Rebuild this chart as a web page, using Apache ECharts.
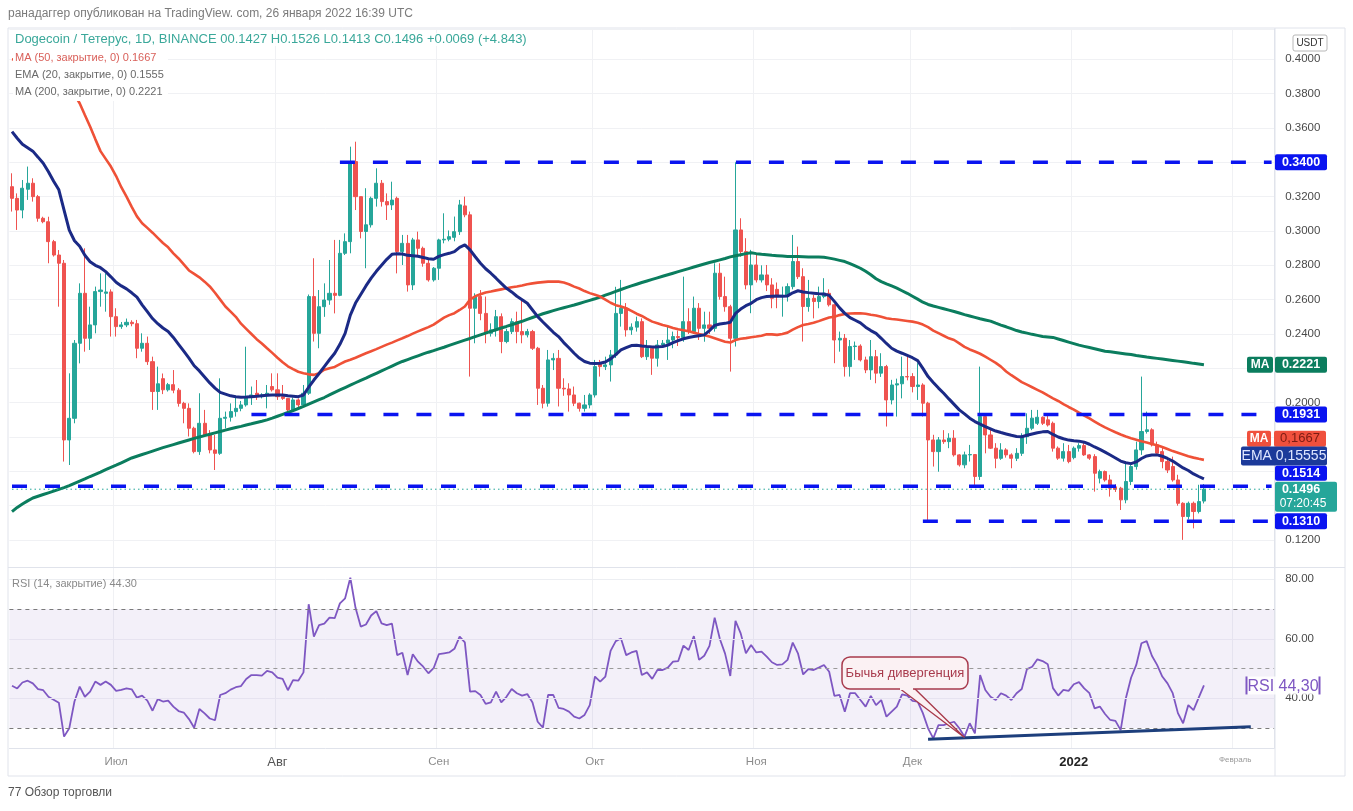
<!DOCTYPE html>
<html>
<head>
<meta charset="utf-8">
<script src="https://cdn.jsdelivr.net/npm/echarts@6/dist/echarts.min.js"></script>
<style>
html,body{margin:0;padding:0;background:#fff;}
#chart{width:1353px;height:811px;}
</style>
</head>
<body>
<div id="chart"></div>
<script>
// ---------- DATA ----------
const startDate = [2021, 5, 11];   // 11 June 2021, first daily candle
const totalSlots = 243;            // 230 candles + empty space on the right

const opens = [
.3258,.3190,.3122,.3243,.3278,.3200,.3074,.3054,.2938,.2860,
.2812,.1783,.1909,.2346,.2637,.2375,.2453,.2647,.2637,.2645,
.2501,.2443,.2453,.2468,.2460,.2317,.2346,.2239,.2065,.2140,
.2075,.2105,.2073,.1996,.1967,.1851,.1715,.1880,.1812,.1725,
.1705,.1909,.1915,.1948,.1967,.1987,.2035,.2055,.2035,.2040,
.2094,.2075,.2035,.2025,.1958,.2016,.1987,.2055,.2618,.2404,
.2559,.2598,.2637,.2625,.2870,.2938,.3404,.3200,.2997,.3036,
.3190,.3278,.3171,.3152,.3190,.2880,.2928,.2686,.2948,.2899,
.2812,.2715,.2783,.2948,.2952,.2963,.2996,.3146,.3094,.2550,
.2618,.2520,.2404,.2424,.2501,.2356,.2414,.2472,.2414,.2395,
.2414,.2317,.2084,.1997,.2249,.2258,.2084,.2080,.2045,.1997,
.1967,.1987,.2045,.2230,.2210,.2220,.2278,.2520,.2550,.2424,
.2440,.2472,.2268,.2317,.2259,.2336,.2346,.2365,.2385,.2380,
.2472,.2414,.2550,.2433,.2453,.2433,.2754,.2618,.2559,.2375,
.3006,.2880,.2686,.2802,.2715,.2744,.2686,.2660,.2618,.2625,
.2676,.2822,.2734,.2560,.2608,.2589,.2618,.2637,.2570,.2365,
.2375,.2210,.2327,.2330,.2249,.2191,.2268,.2172,.2210,.2016,
.2103,.2110,.2152,.2152,.2094,.2103,.1997,.1783,.1715,.1783,
.1773,.1793,.1696,.1638,.1696,.1698,.1570,.1919,.1812,.1735,
.1676,.1725,.1696,.1676,.1705,.1802,.1851,.1880,.1915,.1900,
.1880,.1735,.1677,.1715,.1680,.1735,.1750,.1696,.1686,.1560,
.1599,.1550,.1510,.1502,.1434,.1541,.1628,.1725,.1832,.1842,
.1754,.1715,.1657,.1628,.1550,.1414,.1337,.1414,.1366,.1427];

const closes = [
.3190,.3122,.3249,.3278,.3200,.3074,.3054,.2938,.2860,.2812,
.1783,.1909,.2346,.2637,.2375,.2453,.2647,.2656,.2645,.2501,
.2443,.2453,.2468,.2460,.2317,.2346,.2239,.2065,.2110,.2075,
.2105,.2073,.1996,.1967,.1851,.1715,.1880,.1812,.1725,.1705,
.1909,.1915,.1948,.1967,.1987,.2035,.2045,.2035,.2045,.2055,
.2075,.2035,.2025,.1958,.2016,.1987,.2055,.2618,.2404,.2559,
.2598,.2637,.2625,.2870,.2938,.3404,.3200,.2997,.3036,.3190,
.3278,.3171,.3152,.3180,.2880,.2928,.2686,.2948,.2899,.2812,
.2715,.2783,.2948,.2952,.2967,.2996,.3152,.3094,.2550,.2618,
.2520,.2404,.2424,.2501,.2356,.2414,.2472,.2414,.2395,.2414,
.2317,.2084,.1997,.2249,.2258,.2084,.2080,.2045,.1997,.1967,
.1987,.2045,.2210,.2210,.2220,.2278,.2520,.2550,.2424,.2440,
.2472,.2268,.2317,.2259,.2336,.2346,.2365,.2385,.2380,.2472,
.2414,.2550,.2433,.2453,.2433,.2754,.2618,.2559,.2375,.3006,
.2880,.2686,.2802,.2715,.2744,.2686,.2608,.2618,.2625,.2676,
.2822,.2734,.2560,.2608,.2589,.2618,.2637,.2570,.2365,.2375,
.2210,.2327,.2330,.2249,.2191,.2268,.2172,.2210,.2016,.2103,
.2110,.2152,.2150,.2094,.2103,.1997,.1783,.1715,.1783,.1773,
.1793,.1696,.1638,.1696,.1698,.1570,.1919,.1812,.1735,.1676,
.1725,.1696,.1676,.1705,.1802,.1851,.1910,.1915,.1880,.1870,
.1735,.1677,.1715,.1657,.1735,.1750,.1696,.1677,.1589,.1599,
.1550,.1502,.1495,.1434,.1541,.1628,.1725,.1832,.1842,.1754,
.1706,.1657,.1608,.1550,.1414,.1337,.1414,.1366,.1424,.1496];

const lows = [
.3113,.3006,.3074,.3181,.3171,.3054,.3045,.2812,.2851,.2559,
.1657,.1637,.1880,.2229,.2297,.2307,.2404,.2559,.2530,.2385,
.2385,.2430,.2440,.2445,.2259,.2297,.2220,.1958,.1958,.2050,
.2065,.2055,.1977,.1880,.1803,.1705,.1696,.1800,.1705,.1608,
.1696,.1850,.1890,.1919,.1950,.1977,.1987,.2016,.2025,.1967,
.2065,.2016,.2016,.1938,.1950,.1958,.1977,.2045,.2356,.2317,
.2500,.2570,.2520,.2620,.2860,.2870,.3122,.2957,.2783,.3020,
.3142,.3142,.3064,.3122,.2753,.2802,.2647,.2656,.2850,.2792,
.2705,.2705,.2715,.2928,.2940,.2940,.2977,.3080,.2152,.2346,
.2480,.2346,.2385,.2385,.2288,.2346,.2400,.2346,.2346,.2380,
.2307,.1987,.1967,.1977,.2190,.1978,.2040,.1948,.1980,.1948,
.1948,.1967,.2030,.2152,.2190,.2123,.2260,.2443,.2385,.2395,
.2414,.2260,.2249,.2162,.2210,.2320,.2249,.2317,.2330,.2355,
.2400,.2400,.2365,.2355,.2400,.2414,.2600,.2530,.2181,.2327,
.2850,.2660,.2521,.2700,.2700,.2650,.2550,.2550,.2501,.2589,
.2660,.2720,.2356,.2530,.2491,.2550,.2608,.2560,.2230,.2297,
.2152,.2152,.2249,.2240,.2172,.2133,.2113,.2150,.1861,.1990,
.1919,.2025,.2130,.2060,.2016,.1919,.1317,.1628,.1598,.1760,
.1735,.1686,.1628,.1618,.1657,.1521,.1550,.1705,.1730,.1618,
.1667,.1680,.1618,.1660,.1690,.1760,.1840,.1870,.1870,.1861,
.1715,.1667,.1657,.1647,.1670,.1715,.1690,.1667,.1482,.1530,
.1540,.1453,.1480,.1375,.1414,.1520,.1610,.1696,.1820,.1745,
.1690,.1618,.1590,.1540,.1400,.1201,.1320,.1268,.1355,.1413];

const highs = [
.3336,.3219,.3297,.3375,.3307,.3210,.3083,.3083,.2948,.2889,
.2831,.2171,.2365,.2695,.2899,.2559,.2676,.2753,.2753,.2660,
.2550,.2470,.2490,.2480,.2482,.2404,.2385,.2268,.2210,.2170,
.2115,.2190,.2085,.2005,.1996,.1860,.2055,.1958,.1840,.1812,
.2142,.1948,.1996,.2035,.2010,.2326,.2094,.2132,.2055,.2103,
.2171,.2171,.2103,.2025,.2030,.2025,.2103,.2630,.2841,.2656,
.2695,.2831,.2948,.2948,.2986,.3491,.3520,.3200,.3249,.3200,
.3365,.3297,.3219,.3287,.3200,.2977,.2977,.2960,.2996,.2909,
.2841,.2790,.2955,.3103,.3003,.3084,.3181,.3200,.3113,.2637,
.2656,.2618,.2462,.2540,.2520,.2430,.2491,.2530,.2598,.2430,
.2424,.2325,.2103,.2307,.2288,.2307,.2142,.2113,.2094,.2000,
.2045,.2055,.2249,.2249,.2268,.2307,.2675,.2715,.2580,.2462,
.2501,.2491,.2365,.2327,.2365,.2365,.2443,.2414,.2420,.2734,
.2550,.2618,.2580,.2530,.2530,.2812,.2812,.2734,.2570,.3400,
.3074,.2958,.2890,.2870,.2800,.2802,.2725,.2700,.2676,.2695,
.2977,.2909,.2783,.2715,.2627,.2676,.2725,.2660,.2575,.2414,
.2400,.2365,.2356,.2340,.2268,.2365,.2307,.2288,.2220,.2133,
.2140,.2268,.2278,.2172,.2230,.2113,.2005,.1813,.1800,.1840,
.1822,.1840,.1700,.1715,.1754,.1700,.2210,.1938,.1850,.1764,
.1764,.1735,.1705,.1735,.1822,.1938,.1958,.1958,.1920,.1930,
.1890,.1745,.1764,.1754,.1745,.1764,.1764,.1700,.1700,.1610,
.1605,.1580,.1525,.1510,.1647,.1638,.1773,.2152,.1948,.1851,
.1773,.1740,.1680,.1686,.1580,.1420,.1424,.1424,.1522,.1526];

const ema20 = [
.3579,.3540,.3505,.3485,.3465,.3430,.3394,.3345,.3290,.3240,
.3122,.3005,.2943,.2911,.2859,.2821,.2800,.2786,.2763,.2733,
.2701,.2680,.2663,.2640,.2615,.2570,.2530,.2490,.2460,.2435,
.2415,.2380,.2340,.2300,.2260,.2215,.2185,.2150,.2115,.2085,
.2060,.2050,.2040,.2035,.2032,.2033,.2035,.2037,.2040,.2043,
.2045,.2045,.2045,.2040,.2038,.2035,.2045,.2090,.2132,.2170,
.2210,.2250,.2288,.2340,.2404,.2510,.2580,.2630,.2680,.2725,
.2765,.2800,.2835,.2864,.2868,.2866,.2858,.2856,.2853,.2846,
.2838,.2835,.2852,.2862,.2870,.2880,.2905,.2919,.2890,.2850,
.2812,.2780,.2754,.2725,.2695,.2666,.2645,.2620,.2600,.2579,
.2540,.2501,.2470,.2440,.2410,.2385,.2350,.2320,.2288,.2260,
.2240,.2230,.2228,.2230,.2237,.2255,.2280,.2307,.2320,.2333,
.2335,.2330,.2327,.2325,.2325,.2327,.2335,.2350,.2362,.2372,
.2380,.2385,.2390,.2395,.2420,.2450,.2458,.2462,.2468,.2520,
.2545,.2565,.2579,.2600,.2612,.2618,.2620,.2622,.2620,.2622,
.2640,.2652,.2645,.2641,.2638,.2635,.2633,.2625,.2590,.2552,
.2520,.2495,.2480,.2465,.2440,.2420,.2404,.2375,.2345,.2317,
.2300,.2288,.2275,.2262,.2245,.2200,.2152,.2118,.2085,.2055,
.2022,.1990,.1958,.1935,.1910,.1890,.1875,.1861,.1848,.1835,
.1826,.1818,.1810,.1803,.1802,.1810,.1818,.1825,.1830,.1832,
.1815,.1800,.1790,.1782,.1778,.1776,.1770,.1758,.1742,.1728,
.1712,.1695,.1678,.1660,.1650,.1645,.1655,.1675,.1690,.1695,
.1696,.1688,.1675,.1660,.1640,.1620,.1605,.1585,.1570,.1556];

const ma50 = [
.4000,.3995,.3990,.3982,.3972,.3960,.3945,.3928,.3908,.3885,
.3860,.3830,.3795,.3744,.3675,.3608,.3535,.3465,.3420,.3375,
.3320,.3255,.3200,.3140,.3085,.3045,.3018,.2990,.2960,.2930,
.2905,.2870,.2840,.2805,.2770,.2750,.2730,.2705,.2677,.2640,
.2600,.2560,.2530,.2500,.2460,.2430,.2400,.2370,.2345,.2317,
.2290,.2262,.2235,.2212,.2195,.2180,.2172,.2165,.2162,.2172,
.2192,.2200,.2208,.2225,.2240,.2250,.2262,.2275,.2288,.2300,
.2312,.2325,.2338,.2350,.2363,.2375,.2388,.2402,.2415,.2428,
.2440,.2455,.2475,.2495,.2510,.2521,.2540,.2560,.2600,.2620,
.2632,.2642,.2647,.2654,.2660,.2666,.2672,.2677,.2683,.2690,
.2695,.2699,.2702,.2705,.2706,.2705,.2700,.2690,.2676,.2665,
.2650,.2638,.2628,.2618,.2600,.2582,.2568,.2560,.2550,.2535,
.2518,.2505,.2488,.2472,.2462,.2452,.2445,.2435,.2428,.2422,
.2416,.2408,.2400,.2393,.2385,.2375,.2365,.2355,.2350,.2365,
.2372,.2376,.2381,.2385,.2390,.2398,.2398,.2395,.2400,.2408,
.2425,.2440,.2452,.2458,.2465,.2475,.2486,.2496,.2501,.2510,
.2517,.2519,.2520,.2521,.2518,.2512,.2508,.2500,.2492,.2487,
.2484,.2480,.2476,.2472,.2465,.2455,.2440,.2420,.2405,.2390,
.2375,.2365,.2345,.2325,.2310,.2298,.2285,.2268,.2250,.2232,
.2210,.2182,.2160,.2140,.2120,.2105,.2090,.2075,.2060,.2042,
.2025,.2010,.1992,.1975,.1960,.1942,.1925,.1908,.1890,.1872,
.1856,.1842,.1828,.1815,.1803,.1793,.1784,.1775,.1768,.1760,
.1752,.1742,.1730,.1718,.1708,.1698,.1688,.1680,.1673,.1667];

const ma200 = [
.1365,.1390,.1410,.1428,.1445,.1455,.1465,.1475,.1485,.1495,
.1505,.1517,.1530,.1543,.1556,.1570,.1583,.1596,.1610,.1623,
.1636,.1650,.1664,.1678,.1688,.1698,.1708,.1718,.1728,.1738,
.1747,.1756,.1765,.1774,.1783,.1792,.1800,.1808,.1816,.1824,
.1832,.1840,.1848,.1855,.1862,.1870,.1877,.1885,.1892,.1900,
.1910,.1921,.1932,.1943,.1954,.1966,.1978,.1992,.2005,.2018,
.2030,.2045,.2060,.2074,.2088,.2102,.2116,.2130,.2143,.2157,
.2171,.2185,.2199,.2213,.2227,.2240,.2251,.2262,.2273,.2284,
.2294,.2303,.2313,.2323,.2334,.2344,.2354,.2364,.2374,.2385,
.2395,.2405,.2415,.2425,.2435,.2444,.2454,.2464,.2474,.2485,
.2496,.2507,.2518,.2527,.2536,.2545,.2553,.2561,.2569,.2578,
.2587,.2596,.2605,.2615,.2626,.2637,.2648,.2659,.2670,.2680,
.2690,.2700,.2709,.2718,.2727,.2736,.2745,.2754,.2763,.2772,
.2781,.2790,.2799,.2808,.2816,.2824,.2832,.2840,.2849,.2856,
.2862,.2868,.2873,.2868,.2864,.2861,.2858,.2856,.2854,.2852,
.2851,.2851,.2850,.2849,.2848,.2848,.2847,.2842,.2836,.2829,
.2822,.2810,.2797,.2783,.2765,.2745,.2722,.2705,.2692,.2680,
.2667,.2652,.2637,.2620,.2603,.2585,.2572,.2563,.2555,.2547,
.2539,.2531,.2522,.2513,.2505,.2497,.2489,.2482,.2475,.2463,
.2452,.2442,.2431,.2420,.2412,.2405,.2398,.2392,.2386,.2383,
.2380,.2371,.2362,.2353,.2344,.2335,.2328,.2321,.2314,.2307,
.2300,.2296,.2292,.2288,.2284,.2280,.2275,.2271,.2266,.2262,
.2258,.2254,.2250,.2246,.2242,.2238,.2234,.2229,.2225,.2221];

const rsi = [
44.2,43.3,45.3,45.9,45.0,43.1,42.7,40.5,39.5,38.5,
27.1,29.9,38.9,43.9,40.5,42.2,45.6,44.5,45.6,44.5,
42.5,42.8,43.3,43.0,40.2,40.9,39.2,35.8,39.7,38.9,
39.2,37.2,35.7,35.2,33.0,30.1,36.4,34.9,33.2,32.6,
41.1,41.7,42.9,43.7,44.1,46.5,47.8,47.8,47.6,49.2,
48.7,46.9,46.5,42.7,46.1,45.9,48.7,71.6,60.7,64.6,
65.1,67.1,66.9,71.9,73.6,80.5,70.4,64.1,64.8,67.8,
69.3,65.2,64.6,65.1,54.5,55.3,47.8,54.8,52.3,50.6,
48.4,50.1,54.8,55.1,55.4,56.6,60.7,58.8,42.2,42.4,
41.1,38.1,38.6,42.2,38.6,40.5,43.1,41.7,40.9,41.4,
38.6,32.1,30.1,41.1,41.1,36.8,36.4,35.5,33.8,33.2,
34.4,37.7,47.3,45.6,47.3,55.9,59.2,60.1,54.5,55.4,
55.9,47.8,48.7,46.5,49.5,49.5,50.3,52.3,52.5,57.7,
56.2,60.9,52.9,54.3,57.6,67.1,59.9,55.0,47.5,66.0,
61.8,55.1,57.9,55.4,55.7,54.0,52.1,51.2,51.4,52.9,
58.7,55.1,48.0,49.8,49.5,50.3,51.2,48.9,40.8,41.1,
35.5,41.7,41.7,39.4,37.2,40.8,37.7,39.4,33.8,35.5,
37.2,41.3,40.9,39.1,38.9,35.0,29.9,26.5,31.0,31.0,
31.6,32.1,29.9,27.1,31.6,28.2,47.8,42.8,40.5,39.4,
41.7,40.9,39.4,41.7,43.1,49.8,50.6,53.1,52.5,51.4,
43.4,40.9,42.8,42.5,44.7,45.4,43.3,41.7,36.6,37.2,
34.7,32.7,32.4,29.3,40.0,46.9,51.2,58.5,59.2,54.3,
51.2,47.3,45.0,41.7,35.0,31.6,37.7,36.0,40.2,44.3];

// horizontal support / resistance levels: [value, first candle index]
const levels = [[0.3400, 63], [0.1931, 46], [0.1514, 0], [0.1310, 175]];
const lastPrice = 0.1496;
// RSI bullish-divergence trend line: [candle index, rsi]
const rsiTrend = [[176, 26.2], [238, 30.4]];
const priceTicks = [0.12,0.14,0.16,0.18,0.20,0.22,0.24,0.26,0.28,0.30,0.32,0.34,0.36,0.38,0.40];
const rsiTicks = [40, 60, 80];
const monthNames = {'07':'Июл','08':'Авг','09':'Сен','10':'Окт','11':'Ноя','12':'Дек','01':'2022','02':'Февраль'};

// ---------- BUILD ----------
const dates = [];
for (let k = 0; k < totalSlots; k++) {
  const d = new Date(Date.UTC(startDate[0], startDate[1], startDate[2] + k));
  dates.push(d.toISOString().slice(0, 10));
}
const isMonthStart = (idx) => dates[idx] && dates[idx].slice(8) === '01';
const candles = opens.map((o, k) => [o, closes[k], lows[k], highs[k]]);
const lastSlot = totalSlots - 1;

const FONT = 'Liberation Sans, Arial, sans-serif';
const BLUE = '#0a14f0';
const UP = '#26a69a', DOWN = '#ef5350';

const chart = echarts.init(document.getElementById('chart'), null, {renderer: 'canvas'});

const gridLeft = 9.4, gridWidth = 1264.8;
const mainTop = 29, mainBottom = 567, rsiTop = 568, rsiBottom = 748;
const pMax = 0.34 + (162.3 - mainTop) / 1717;
const pMin = 0.34 - (mainBottom - 162.3) / 1717;

const levelSeries = levels.map(([v, s]) => ({
  type: 'line', xAxisIndex: 0, yAxisIndex: 0, symbol: 'none', silent: true, z: 6,
  data: [[s, v], [lastSlot, v]],
  lineStyle: {color: BLUE, width: 3.5, type: [15, 18]}
}));

const option = {
  animation: false,
  backgroundColor: '#ffffff',
  textStyle: {fontFamily: FONT},
  grid: [
    {left: gridLeft, width: gridWidth, top: mainTop, height: mainBottom - mainTop},
    {left: gridLeft, width: gridWidth, top: rsiTop, height: rsiBottom - rsiTop}
  ],
  xAxis: [
    {type: 'category', gridIndex: 0, data: dates, boundaryGap: true,
     axisLine: {show: false}, axisTick: {show: false}, axisLabel: {show: false},
     splitLine: {show: true, interval: (i) => isMonthStart(i), lineStyle: {color: '#f0f1f4', width: 1}}},
    {type: 'category', gridIndex: 1, data: dates, boundaryGap: true,
     axisLine: {show: true, lineStyle: {color: '#e0e3eb'}}, axisTick: {show: false},
     splitLine: {show: true, interval: (i) => isMonthStart(i), lineStyle: {color: '#f0f1f4', width: 1}},
     axisLabel: {
       interval: (i) => isMonthStart(i), margin: 8, color: '#8c8c8c', fontSize: 11.5, fontFamily: FONT,
       formatter: (v) => {
         const m = v.slice(5, 7); const n = monthNames[m] || '';
         if (m === '01') return '{y|' + n + '}';
         if (m === '08') return '{a|' + n + '}';
         if (m === '02') return '{f|' + n + '}';
         return n;
       },
       rich: {
         y: {fontSize: 13, fontWeight: 'bold', color: '#222', fontFamily: FONT},
         a: {fontSize: 13, color: '#555', fontFamily: FONT},
         f: {fontSize: 8, color: '#999', fontFamily: FONT}
       }
     }}
  ],
  yAxis: [
    {type: 'value', gridIndex: 0, position: 'right', min: pMin, max: pMax, splitNumber: 16, scale: true,
     axisLine: {show: true, lineStyle: {color: '#e0e3eb'}}, axisTick: {show: false},
     axisLabel: {margin: 11, color: '#4a4a4a', fontSize: 11.5, fontFamily: FONT, showMinLabel: false, showMaxLabel: false,
       formatter: (v) => priceTicks.some(t => Math.abs(t - v) < 1e-6) ? v.toFixed(4) : ''},
     splitLine: {show: true, lineStyle: {color: '#f0f1f4'}}},
    {type: 'value', gridIndex: 1, position: 'right', min: 23.28, max: 83.78, splitNumber: 6,
     axisLine: {show: true, lineStyle: {color: '#e0e3eb'}}, axisTick: {show: false},
     axisLabel: {margin: 11, color: '#4a4a4a', fontSize: 11.5, fontFamily: FONT, showMinLabel: false, showMaxLabel: false,
       formatter: (v) => rsiTicks.some(t => Math.abs(t - v) < 1e-6) ? v.toFixed(2) : ''},
     splitLine: {show: false}}
  ],
  series: [
    {type: 'candlestick', xAxisIndex: 0, yAxisIndex: 0, data: candles, barWidth: 3.6, z: 2,
     itemStyle: {color: UP, color0: DOWN, borderColor: UP, borderColor0: DOWN, borderWidth: 1}},
    {type: 'line', name: 'MA200', xAxisIndex: 0, yAxisIndex: 0, data: ma200, symbol: 'none', z: 3, silent: true,
     lineStyle: {color: '#0b7d5e', width: 3}},
    {type: 'line', name: 'MA50', xAxisIndex: 0, yAxisIndex: 0, data: ma50, symbol: 'none', z: 3, silent: true,
     lineStyle: {color: '#ef5137', width: 2.6}},
    {type: 'line', name: 'EMA20', xAxisIndex: 0, yAxisIndex: 0, data: ema20, symbol: 'none', z: 4, silent: true,
     lineStyle: {color: '#1b2a86', width: 3}},
    ...levelSeries,
    {type: 'line', xAxisIndex: 0, yAxisIndex: 0, symbol: 'none', silent: true, z: 5,
     data: [[0, lastPrice], [lastSlot, lastPrice]], lineStyle: {color: UP, width: 1, type: [1.5, 3]}},
    {type: 'line', name: 'RSI', xAxisIndex: 1, yAxisIndex: 1, data: rsi, symbol: 'none', z: 4, silent: true,
     lineStyle: {color: '#7e57c2', width: 1.8},
     markArea: {silent: true, itemStyle: {color: 'rgba(126,87,194,0.09)'},
       data: [[{yAxis: 30, x: gridLeft}, {yAxis: 70, x: gridLeft + gridWidth}]]},
     markLine: {silent: true, symbol: 'none', label: {show: false},
       data: [
         {yAxis: 70, lineStyle: {color: '#7a7a7a', type: [4, 4], width: 1}},
         {yAxis: 50, lineStyle: {color: '#9a9a9a', type: [4, 4], width: 1}},
         {yAxis: 30, lineStyle: {color: '#7a7a7a', type: [4, 4], width: 1}},
         {yAxis: 80, lineStyle: {color: '#eceef2', type: 'solid', width: 1}},
         {yAxis: 60, lineStyle: {color: '#e6e3f0', type: 'solid', width: 1}},
         {yAxis: 40, lineStyle: {color: '#e6e3f0', type: 'solid', width: 1}}
       ]}},
    {type: 'line', xAxisIndex: 1, yAxisIndex: 1, data: rsiTrend, symbol: 'none', z: 6, silent: true,
     lineStyle: {color: '#1d3f7c', width: 3}}
  ]
};
chart.setOption(option);

// ---------- ANNOTATIONS / LABELS ----------
const py = (v) => chart.convertToPixel({yAxisIndex: 0}, v);
function tag(x1, x2, yc, h, bg, text, color, bold, size) {
  return {type: 'group', z: 100, children: [
    {type: 'rect', shape: {x: x1, y: yc - h / 2, width: x2 - x1, height: h, r: 2}, style: {fill: bg}, z: 100},
    {type: 'text', x: (x1 + x2) / 2, y: yc, z: 101,
     style: {text: text, fill: color, font: (bold ? 'bold ' : '') + size + 'px ' + FONT, textAlign: 'center', textVerticalAlign: 'middle'}}
  ]};
}
const g = [];
// frame
g.push({type: 'rect', z: 90, shape: {x: 8, y: 28, width: 1337, height: 748}, style: {fill: 'none', stroke: '#e0e3eb', lineWidth: 1}});
g.push({type: 'line', z: 90, shape: {x1: 8, y1: 567.5, x2: 1345, y2: 567.5}, style: {stroke: '#e0e3eb', lineWidth: 1}});
g.push({type: 'line', z: 90, shape: {x1: 1275, y1: 28, x2: 1275, y2: 776}, style: {stroke: '#e0e3eb', lineWidth: 1}});
// legend backdrop (hides the indicator lines behind the legend block, as in the reference)
g.push({type: 'rect', z: 95, shape: {x: 13, y: 50, width: 155, height: 51}, style: {fill: '#ffffff'}});
// header & legend
g.push({type: 'text', z: 100, left: 8, top: 8, style: {text: 'ранадаггер опубликован на TradingView. com, 26 января 2022 16:39 UTC', fill: '#7b7b7b', font: '12px ' + FONT}});
g.push({type: 'text', z: 100, left: 15, top: 33, style: {text: 'Dogecoin / Тетерус, 1D, BINANCE 00.1427 H0.1526 L0.1413 C0.1496 +0.0069 (+4.843)', fill: '#3aa89a', font: '13px ' + FONT, backgroundColor: 'rgba(255,255,255,0.85)'}});
g.push({type: 'text', z: 100, left: 15, top: 52, style: {text: 'MA (50, закрытие, 0) 0.1667', fill: '#d9605a', font: '11px ' + FONT}});
g.push({type: 'text', z: 100, left: 15, top: 69, style: {text: 'EMA (20, закрытие, 0) 0.1555', fill: '#6a6a6a', font: '11px ' + FONT}});
g.push({type: 'text', z: 100, left: 15, top: 86, style: {text: 'MA (200, закрытие, 0) 0.2221', fill: '#6a6a6a', font: '11px ' + FONT}});
g.push({type: 'text', z: 100, left: 12, top: 578, style: {text: 'RSI (14, закрытие) 44.30', fill: '#8a8a8a', font: '11px ' + FONT}});
g.push({type: 'text', z: 100, left: 8, top: 787, style: {text: '77 Обзор торговли', fill: '#555', font: '12px ' + FONT}});
// USDT box
g.push({type: 'rect', z: 100, shape: {x: 1293, y: 35, width: 34, height: 16, r: 2}, style: {fill: '#fff', stroke: '#b8b8b8', lineWidth: 1}});
g.push({type: 'text', z: 101, x: 1310, y: 43, style: {text: 'USDT', fill: '#333', font: '10px ' + FONT, textAlign: 'center', textVerticalAlign: 'middle'}});
// right price tags
g.push(tag(1275, 1327, py(0.34), 16, BLUE, '0.3400', '#fff', true, 12.5));
g.push(tag(1247, 1273, py(0.2221), 16, '#0b7d5e', 'MA', '#fff', true, 12));
g.push(tag(1275, 1327, py(0.2221), 16, '#0b7d5e', '0.2221', '#fff', true, 12.5));
g.push(tag(1275, 1327, py(0.1931), 16, BLUE, '0.1931', '#fff', true, 12.5));
g.push(tag(1247, 1271, py(0.1667) - 21, 16, '#f0503d', 'MA', '#fff', true, 12));
g.push(tag(1274, 1326, py(0.1667) - 21, 16, '#f0503d', '0,1667', '#7c1c12', false, 13));
g.push(tag(1241, 1327, py(0.15555) - 23, 19, '#1c3a9a', 'EMA 0,15555', '#dfe6ff', false, 14));
g.push(tag(1275, 1327, py(0.1514) - 13, 15, BLUE, '0.1514', '#fff', true, 12.5));
g.push({type: 'group', z: 100, children: [
  {type: 'rect', z: 100, shape: {x: 1275, y: py(lastPrice) - 7.5, width: 62, height: 30, r: 2}, style: {fill: '#26a69a'}},
  {type: 'text', z: 101, x: 1301, y: py(lastPrice) + 0.5, style: {text: '0.1496', fill: '#fff', font: 'bold 12.5px ' + FONT, textAlign: 'center', textVerticalAlign: 'middle'}},
  {type: 'text', z: 101, x: 1303, y: py(lastPrice) + 14.5, style: {text: '07:20:45', fill: '#fff', font: '12px ' + FONT, textAlign: 'center', textVerticalAlign: 'middle'}}
]});
g.push(tag(1275, 1327, py(0.131), 16, BLUE, '0.1310', '#fff', true, 12.5));
// RSI value tag
const ry = chart.convertToPixel({yAxisIndex: 1}, 44.3);
g.push({type: 'rect', z: 100, shape: {x: 1246, y: ry - 9, width: 74, height: 18}, style: {fill: 'rgba(255,255,255,0.85)'}});
g.push({type: 'line', z: 101, shape: {x1: 1246.5, y1: ry - 9, x2: 1246.5, y2: ry + 9}, style: {stroke: '#7e57c2', lineWidth: 2}});
g.push({type: 'line', z: 101, shape: {x1: 1319.5, y1: ry - 9, x2: 1319.5, y2: ry + 9}, style: {stroke: '#7e57c2', lineWidth: 2}});
g.push({type: 'text', z: 101, x: 1283, y: ry + 1, style: {text: 'RSI 44,30', fill: '#7e57c2', font: '16px ' + FONT, textAlign: 'center', textVerticalAlign: 'middle'}});
// callout "Бычья дивергенция"
const tip = chart.convertToPixel({xAxisIndex: 1, yAxisIndex: 1}, [183, 26.8]);
g.push({type: 'polygon', z: 102, shape: {points: [[899, 688], [tip[0], tip[1]], [914, 688]]}, style: {fill: '#fbf1f3', stroke: '#a83a4c', lineWidth: 1.3}});
g.push({type: 'rect', z: 103, shape: {x: 842, y: 657, width: 126, height: 32, r: 8}, style: {fill: '#fbf1f3', stroke: '#a83a4c', lineWidth: 1.5}});
g.push({type: 'rect', z: 104, shape: {x: 900, y: 686, width: 13, height: 4}, style: {fill: '#fbf1f3'}});
g.push({type: 'text', z: 105, x: 905, y: 673, style: {text: 'Бычья дивергенция', fill: '#a83a4c', font: '13px ' + FONT, textAlign: 'center', textVerticalAlign: 'middle'}});

chart.setOption({graphic: g});
</script>
</body>
</html>
